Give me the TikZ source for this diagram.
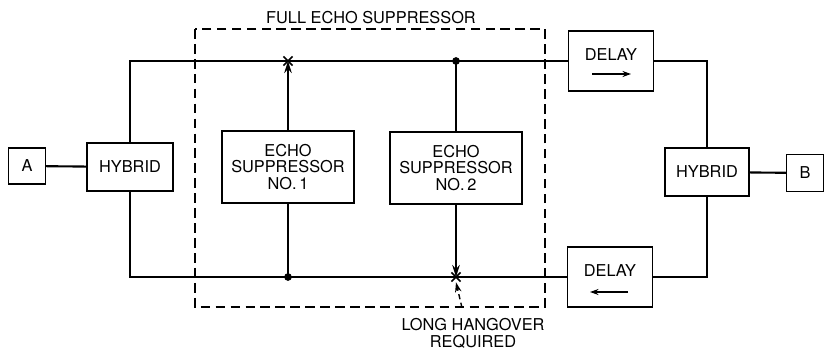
\documentclass[tikz,border=0pt]{standalone}
\usepackage{fontspec}
\setmainfont{TeX Gyre Heros}
\usepackage{tikz}
\usetikzlibrary{arrows.meta}
\tikzset{
  block/.style={draw, line width=0.8pt, fill=white, inner sep=0pt, align=center},
  dlybox/.style={block, minimum width=1.70cm, minimum height=1.20cm, text depth=7pt},
  esbox/.style={block, minimum width=2.64cm, minimum height=1.44cm},
  wire/.style={line width=1.2pt},
  sig/.style={wire, -{Stealth[length=2.4mm,width=1.5mm]}},
  flow/.style={line width=0.9pt, -{Stealth[length=1.7mm,width=1.2mm]}},
  fence/.style={line width=0.6pt, dash pattern=on 5.5pt off 3pt},
  hint/.style={line width=0.8pt, dash pattern=on 3pt off 2pt, -{Stealth[length=2mm,width=1.3mm]}},
}
\newcommand{\breakmark}[1]{%
  \draw[line width=0.9pt] ([shift={(-2.6pt,-2.6pt)}]#1) -- ([shift={(2.6pt,2.6pt)}]#1)
    ([shift={(-2.6pt,2.6pt)}]#1) -- ([shift={(2.6pt,-2.6pt)}]#1);}

\begin{document}
\begin{tikzpicture}[x=0.02cm, y=-0.02cm, font=\fontsize{9.3}{9.6}\selectfont]
\useasboundingbox (0,0) rectangle (824,348);
% full suppressor outline
\draw[fence] (195,29) rectangle (545,307);
\node (fulltxt) at (371,18) {FULL ECHO SUPPRESSOR};

% blocks
\node[block, minimum width=0.74cm, minimum height=0.72cm] (A) at (27,166) {A};
\node[block, minimum width=1.72cm, minimum height=0.96cm] (hybL) at (130,167) {HYBRID};
\node[esbox] (es1) at (288,167) {ECHO\\SUPPRESSOR\\NO.\,1};
\node[esbox] (es2) at (456,168) {ECHO\\SUPPRESSOR\\NO.\,2};
\node[dlybox] (dlyT) at (611,61) {DELAY};
\node[dlybox] (dlyB) at (610,277) {DELAY};
\node[block, minimum width=1.68cm, minimum height=0.96cm] (hybR) at (707,172) {HYBRID};
\node[block, minimum width=0.74cm, minimum height=0.74cm] (B) at (805,173) {B};
\node[align=center] (hangtxt) at (473,333) {LONG HANGOVER\\REQUIRED};

% four-wire loop
\draw[wire] (A) -- (hybL);
\draw[wire] (hybL.north) |- (dlyT.west);
\draw[wire] (hybL.south) |- (dlyB.west);
\draw[wire] (dlyT.east) -| (hybR.north);
\draw[wire] (dlyB.east) -| (hybR.south);
\draw[wire] (hybR) -- (B);

% suppressor taps
\coordinate (xT) at (es1.north |- dlyT.west);
\coordinate (dotB) at (es1.south |- dlyB.west);
\coordinate (dotT) at (es2.north |- dlyT.west);
\coordinate (xB) at (es2.south |- dlyB.west);
\draw[wire] (dotB) -- (es1.south);
\draw[sig] (es1.north) -- (xT);
\draw[wire] (dotT) -- (es2.north);
\draw[sig] (es2.south) -- (xB);
\fill (dotB) circle[radius=2.2pt];
\fill (dotT) circle[radius=2.2pt];
\breakmark{xT}
\breakmark{xB}

% direction of delay
\draw[flow] ([shift={(-19,13)}]dlyT.center) -- ([shift={(20,13)}]dlyT.center);
\draw[flow] ([shift={(18,15)}]dlyB.center) -- ([shift={(-20,15)}]dlyB.center);

\draw[hint] ([shift={(-11,-4)}]hangtxt.north) -- ([yshift=-3pt]xB);
\end{tikzpicture}
\end{document}
